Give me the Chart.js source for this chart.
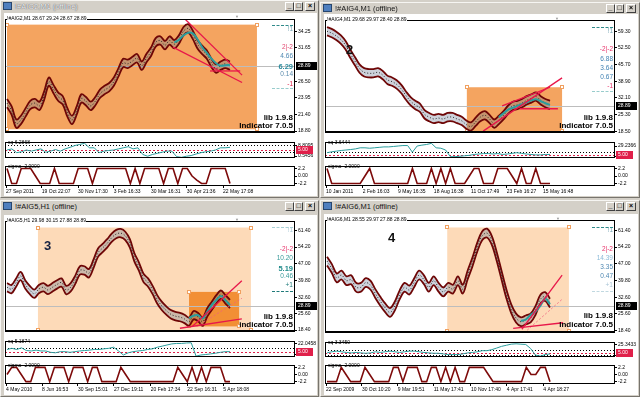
<!DOCTYPE html>
<html><head><meta charset="utf-8">
<script src="https://cdn.jsdelivr.net/npm/chart.js@4.4.1/dist/chart.umd.min.js"></script>
<style>
html,body{margin:0;padding:0}
body{width:640px;height:397px;background:#d4d0c8;position:relative;overflow:hidden;font-family:"Liberation Sans",Arial,sans-serif}
canvas{position:absolute}
.t{position:absolute;white-space:nowrap;line-height:1;font-family:"Liberation Sans",Arial,sans-serif}
</style></head><body>
<script>
// ================= DATA =================
// Panel 1  (!#AIG2,M1)
const P1_PRICE = [23.13,21.98,19.95,20.53,21.69,22.84,23.13,22.70,24.29,26.45,25.30,24.14,23.56,21.69,20.53,21.98,23.85,23.42,22.70,23.42,24.57,25.15,25.59,26.45,27.90,29.34,29.20,29.63,30.06,28.91,30.06,31.07,32.52,32.81,32.08,32.81,32.23,32.95,34.25,34.68,33.67,32.23,31.36,30.64,29.34,28.47,28.91,29.20,28.91];
const P1_MA_START = 36;
const P1_MA = [32.5,32.9,33.6,34.0,33.9,33.0,31.8,30.9,30.0,29.3,28.9,29.0,29.0];
const P1_SQ = [5.20,6.07,3.13,3.80,5.20,4.32,5.20,6.07,3.49,4.32,5.56,4.32,6.07,7.26,8.65,9.48,10.36,6.90,6.90,3.13,4.32,4.84,5.20,6.07,6.90,7.78,6.07,6.90,1.74,0.40,1.74,2.62,3.49,4.32,4.32,0.04,-0.48,0.40,0.92,2.10,3.13,3.80,4.32,5.20,6.90,6.90,7.26];
const P1_SIGMA = [2.2,-2.2,-2.2,2.2,2.2,2.2,0,-2.2,-2.2,-2.2,2.2,-2.2,-2.2,-2.2,-2.2,2.2,2.2,2.2,-2.2,2.2,2.2,2.2,2.2,2.2,2.2,2.2,-2.2,2.2,-2.2,2.2,2.2,2.2,2.2,-2.2,2.2,2.2,-2.2,2.2,2.2,0,-1.2,-2.2,-2.2,2.2,2.2,2.2,2.2,-2.2];
const P1_YTICKS = [34.25,31.65,26.50,23.95,21.40,18.80];
const P1_SQTICKS = [8.8095,0.5456];
const P1_SQLABELS = ["8.8095","0.5456"];
const P1_SQLEVELS = [9.4,3.6];
const P1_XTICKS = [-0.2,7.5,15.3,23.0,31.0,38.7,46.5];
const P1_XLABELS = ["27 Sep 2011","19 Oct 22:07","30 Nov 17:30","3 Feb 16:33","30 Mar 16:31","30 Apr 21:36","22 May 17:08"];
const P1_RECT = [0,53.8,35.26,19.09];
const P1_TREND = [[38.3,36.13,50.6,27.46],[35.7,31.79,50.6,26.31],[43.7,28.1,50.2,28.1]];

// Panel 2  (!#AIG4,M1)
const P2_PRICE = [59.30,58.54,57.39,55.87,53.58,50.15,47.10,44.05,42.52,42.14,42.14,42.52,41.38,39.47,38.71,37.57,35.66,33.01,30.70,29.18,28.03,25.36,24.22,23.46,23.84,23.46,24.22,24.22,23.46,22.70,21.17,20.41,22.31,24.22,24.98,23.46,21.55,23.08,24.98,27.27,28.80,29.18,29.94,31.08,31.85,32.61,31.08,29.94,29.18];
const P2_MA_START = 37;
const P2_MA = [24.2,25.8,27.3,28.0,28.8,29.5,30.3,31.1,31.5,30.7,29.9,29.2];
const P2_SQ = [10.2,12.7,14.6,16.5,17.8,19.2,21.0,24.1,24.1,22.9,24.1,25.4,26.7,26.7,27.9,29.2,30.5,30.5,11.6,29.2,31.7,33.6,36.8,24.1,22.9,17.8,-1.2,-1.2,0.1,1.3,2.6,5.1,6.4,7.7,7.7,6.4,7.7,5.1,6.4,8.3,10.2,8.3,6.4,5.1,3.9,3.9,5.1,5.1];
const P2_SIGMA = [2.2,-2.2,-2.2,-2.2,-2.2,-2.2,-2.2,-2.2,0,2.2,-2.2,-2.2,-2.2,-2.2,-2.2,-2.2,-2.2,-2.2,2.2,-2.2,-2.2,-2.2,2.2,-2.2,2.2,-2.2,2.2,-2.2,-2.2,-2.2,0,2.2,2.2,-2.2,-2.2,-2.2,2.2,2.2,2.2,0,-2.2,2.2,-2.2,-2.2,2.2,-2.2,-2.2,-2.2];
const P2_YTICKS = [59.30,52.50,45.70,38.90,32.10,25.30,18.50];
const P2_SQTICKS = [29.2366,0.137];
const P2_SQLABELS = ["29.2366","0.137"];
const P2_SQLEVELS = [12.7];
const P2_XTICKS = [-0.2,7.7,15.3,23.0,31.0,38.7,46.5];
const P2_XLABELS = ["10 Jan 2011","2 Feb 16:03","9 May 16:35","18 Aug 16:38","11 Oct 17:49","23 Feb 16:27","15 May 16:48"];
const P2_RECT = [30.1,50.6,36.42,18.50];
const P2_TREND = [[33.6,18.50,50.6,40.24],[37.7,28.80,48.0,36.42],[41.5,27.65,49.7,27.65]];

// Panel 3  (!#AIG5,H1)
const P3_PRICE = [36.88,36.08,38.89,41.71,38.09,35.68,34.07,36.08,36.88,35.68,36.88,38.09,38.89,35.68,36.88,40.10,44.12,44.12,42.91,46.93,51.75,53.76,55.77,58.18,59.79,60.19,58.99,55.77,49.74,45.73,40.90,38.89,35.68,31.66,28.85,26.84,25.23,24.43,24.02,23.22,22.01,24.83,24.02,22.01,26.03,28.85,31.66,33.67,31.66,29.65];
const P3_MA_START = 40;
const P3_MA = [23.6,24.6,24.8,23.4,26.4,29.3,31.4,33.1,31.2,29.2];
const P3_SQ = [10.1,12.4,10.1,13.3,8.0,7.1,8.8,7.1,7.1,4.4,3.5,5.7,5.7,4.4,5.7,7.1,8.0,8.8,10.1,10.1,11.4,12.4,14.6,7.1,-0.9,3.5,5.7,7.1,8.0,10.1,11.4,14.6,16.7,19.0,21.2,22.1,22.1,23.0,23.4,-3.2,-0.9,0.0,1.3,2.6,4.4,5.7,5.7];
const P3_SIGMA = [0,2.2,2.2,0,-2.2,-2.2,2.2,2.2,2.2,-2.2,2.2,2.2,2.2,-2.2,2.2,2.2,2.2,-2.2,2.2,2.2,-2.2,-2.2,-2.2,-2.2,2.2,0,-2.2,-2.2,-2.2,-2.2,-2.2,-2.2,-2.2,-2.2,-2.2,-2.2,2.2,0,-2.2,2.2,-2.2,2.2,-2.2,2.2,2.2,2.2,-2.2,-2.2];
const P3_YTICKS = [61.40,54.20,47.00,39.80,32.60,25.60,18.40];
const P3_SQTICKS = [22.0458,0.0166];
const P3_SQLABELS = ["22.0458","0.0166"];
const P3_SQLEVELS = [13.3];
const P3_XTICKS = [-0.2,7.7,15.6,23.5,31.6,39.6,47.5];
const P3_XLABELS = ["4 May 2010","8 Jun 16:53","30 Sep 15:01","27 Dec 19:11","20 Feb 17:34","22 Sep 16:31","5 Apr 18:08"];
const P3_RECT_BIG = [6.8,53.6,62.61,18.40];
const P3_RECT_SMALL = [40.0,51.0,34.87,20.00];
const P3_TREND = [[40.7,20.0,51.6,39.7],[38.0,19.2,51.6,23.2]];
const P3_TREND_THIN = [[41.7,20.0,51.6,32.1]];

// Panel 4  (!#AIG6,M1)
const P4_PRICE = [48.14,44.92,40.90,42.11,39.70,40.10,36.88,36.88,38.89,37.69,34.07,30.86,28.04,26.03,28.85,33.67,36.88,35.68,38.89,42.11,40.10,36.88,39.70,36.88,34.87,36.88,36.08,39.70,36.08,42.11,47.74,54.17,58.99,60.19,56.98,50.15,42.11,34.07,27.64,23.62,22.01,22.82,23.62,26.84,31.66,32.87,30.05];
const P4_MA_START = 40;
const P4_MA = [22.4,23.0,25.0,26.4,28.9,32.0,29.5];
const P4_SQ = [5.1,7.7,9.2,7.7,6.1,5.1,6.1,5.1,4.2,5.1,7.7,6.1,7.7,9.2,7.7,6.1,7.7,9.2,9.2,7.7,6.1,5.1,4.2,4.2,2.7,1.2,1.2,1.2,2.7,5.1,6.1,7.7,10.2,10.2,12.6,16.3,20.2,22.8,25.3,26.1,25.3,24.6,15.2,0.1,-2.5,1.2,2.7];
const P4_SIGMA = [-2.2,-2.2,-2.2,2.2,0,-2.2,-2.2,-2.2,2.2,0,-2.2,-2.2,-2.2,-2.2,2.2,2.2,-2.2,2.2,2.2,2.2,-2.2,-2.2,2.2,2.2,-2.2,2.2,-2.2,2.2,-2.2,-2.2,2.2,2.2,2.2,2.2,0,-2.2,-2.2,-2.2,-2.2,-2.2,-2.2,-2.2,2.2,0,0,2.2,2.2,-2.2];
const P4_YTICKS = [61.40,54.20,47.00,39.80,32.60,25.60,18.40];
const P4_SQTICKS = [25.3433,0.1063];
const P4_SQLABELS = ["25.3433","0.1063"];
const P4_SQLEVELS = [12.6,1.2];
const P4_XTICKS = [-0.2,7.2,14.6,22.0,29.7,37.1,44.6];
const P4_XLABELS = ["22 Sep 2009","30 Oct 10:20","9 Mar 19:51","11 May 17:41","10 Nov 17:40","4 Apr 17:41","4 Apr 18:27"];
const P4_RECT = [24.8,49.9,62.61,18.0];
const P4_TREND = [[40.2,18.8,48.5,42.1],[38.4,19.2,48.7,21.6]];
const P4_TREND_THIN = [[41.3,18.4,48.5,31.7]];

const SIGMA_TICKS = [2.2,0,-2.2];
const SIGMA_LABELS = ["2.2","0.00","-2.2"];
const BID = 28.89;
const SQ_RED_LEVEL = 5.0;

// ================= LAYOUT / STYLE =================
const FONT = "'Liberation Sans', Arial, sans-serif";
const SANDY = '#f4a460', PEACH = '#fddab8', DEEP = '#f28f35';

const PANELS = [
 {win:[0,0,319,198], top:15, mainBot:137, sqBot:162, sigBot:186, title:'!#AIG2,M1 (offline)', light:true,
  head:'!#AIG2,M1  28.67 29.24 28.67 28.89', sqName:'sq 6.2868',
  price:P1_PRICE, band:0.65, ma:P1_MA, maStart:P1_MA_START, yr:[18.51,36.13], yt:P1_YTICKS,
  sq:P1_SQ, sqr:[-0.99,11.39], sqt:P1_SQTICKS, sql:P1_SQLABELS, sqlev:P1_SQLEVELS,
  sig:P1_SIGMA, xt:P1_XTICKS, xl:P1_XLABELS,
  rects:[{v:P1_RECT,c:SANDY}], trend:P1_TREND, thin:[],
  rt:[['!1',30,'#7aa7b5'],['2|-2',48,'#e24a72'],['4.66',57,'#4f88b2'],['6.29',67,'#2d8c9e',1],['0.14',75,'#5b8cae'],['-1',85,'#e0204a']],
  dash:[[25,'#2f8a8a'],[88,'#98cccc']], rx:293, lib:[118,126,'Indicator 7.0.5'], num:null, tri:[235,15]},
 {win:[320,2,320,196], top:16, mainBot:137, sqBot:162, sigBot:186, title:'!#AIG4,M1 (offline)', light:false,
  head:'!#AIG4,M1  29.68 29.97 28.40 28.89', sqName:'sq 3.6444',
  price:P2_PRICE, band:1.7, ma:P2_MA, maStart:P2_MA_START, yr:[17.74,63.88], yt:P2_YTICKS,
  sq:P2_SQ, sqr:[-4.96,40.64], sqt:P2_SQTICKS, sql:P2_SQLABELS, sqlev:P2_SQLEVELS,
  sig:P2_SIGMA, xt:P2_XTICKS, xl:P2_XLABELS,
  rects:[{v:P2_RECT,c:SANDY}], trend:P2_TREND, thin:[],
  rt:[['!1',32,'#7aa7b5'],['-2|-2',50,'#e8326a'],['6.88',60,'#3f80b2'],['3.64',69,'#3f80b2'],['0.67',78,'#3f80b2'],['-1',87,'#e8326a']],
  dash:[[27,'#2f8a8a'],[91,'#98cccc']], rx:613, lib:[118,126,'Indicator 7.0.5'], num:['2',350,50,'#111'], tri:[555,17]},
 {win:[0,200,319,197], top:217, mainBot:336, sqBot:361, sigBot:384, title:'!#AIG5,H1 (offline)', light:false,
  head:'!#AIG5,H1  29.98 30.15 27.88 28.89', sqName:'sq 5.1874',
  price:P3_PRICE, band:1.8, ma:P3_MA, maStart:P3_MA_START, yr:[17.59,65.42], yt:P3_YTICKS,
  sq:P3_SQ, sqr:[-4.89,26.96], sqt:P3_SQTICKS, sql:P3_SQLABELS, sqlev:P3_SQLEVELS,
  sig:P3_SIGMA, xt:P3_XTICKS, xl:P3_XLABELS,
  rects:[{v:P3_RECT_BIG,c:PEACH},{v:P3_RECT_SMALL,c:DEEP}], trend:P3_TREND, thin:P3_TREND_THIN,
  rt:[['!1',231,'#a9c9d6'],['-2|-2',250,'#e8326a'],['10.20',259,'#3a9a9a'],['5.19',269,'#1f8a8a',1],['0.46',277,'#3a9a9a'],['+1',286,'#1f7a7a']],
  dash:[[227,'#a9d0d6'],[291,'#1f7a7a']], rx:293, lib:[317,325,'indicator 7.0.5'], num:['3',48,246,'#142040'], tri:[235,218]},
 {win:[320,200,320,197], top:216, mainBot:337, sqBot:361, sigBot:384, title:'!#AIG6,M1 (offline)', light:false,
  head:'!#AIG6,M1  28.55 29.97 27.88 28.89', sqName:'sq 3.3450',
  price:P4_PRICE, band:1.9, ma:P4_MA, maStart:P4_MA_START, yr:[17.19,65.82], yt:P4_YTICKS,
  sq:P4_SQ, sqr:[-4.42,30.33], sqt:P4_SQTICKS, sql:P4_SQLABELS, sqlev:P4_SQLEVELS,
  sig:P4_SIGMA, xt:P4_XTICKS, xl:P4_XLABELS,
  rects:[{v:P4_RECT,c:PEACH}], trend:P4_TREND, thin:P4_TREND_THIN,
  rt:[['!1',231,'#7aa7b5'],['2|-2',250,'#e8326a'],['14.39',259,'#8bbad8'],['3.35',268,'#4f88b2'],['0.47',277,'#4f88b2'],['+1',286,'#a9c4d6']],
  dash:[[227,'#2f8a8a'],[291,'#c0d8e0']], rx:613, lib:[316,325,'Indicator 7.0.5'], num:['4',392,238,'#111'], tri:[556,217]}
];

// ================= HELPERS =================
function el(css, text, cls){
  const d = document.createElement('div');
  if (cls) d.className = cls;
  d.style.cssText = css;
  if (text != null) d.textContent = text;
  document.body.appendChild(d);
  return d;
}
function canvasAt(x,y,w,h){
  const c = document.createElement('canvas');
  c.width = w; c.height = h;
  c.style.cssText = `left:${x}px;top:${y}px;width:${w}px;height:${h}px`;
  document.body.appendChild(c);
  return c;
}
function txt(s, x, cy, o){
  o = o || {};
  const fs = o.fs || 6;
  let css = `top:${(cy - fs*0.55).toFixed(1)}px;font-size:${fs}px;color:${o.color||'#000'};`;
  css += o.right ? `right:${640 - x}px;` : `left:${x}px;`;
  if (o.bold) css += 'font-weight:bold;';
  if (o.bg) css += `background:${o.bg};`;
  if (o.shadow) css += `text-shadow:${o.shadow};`;
  return el(css, s, 't');
}
function yAxis(min, max, ticks, labels){
  return {
    type:'linear', position:'right', min:min, max:max,
    afterFit: s => { s.width = 23; },
    afterBuildTicks: s => { s.ticks = ticks.map(v => ({value:v})); },
    ticks:{autoSkip:false, padding:1, color:'#000', font:{size:5, family:FONT}, callback:(v,i) => labels[i]},
    grid:{drawOnChartArea:false, drawTicks:true, tickLength:2, color:'#000'},
    border:{display:false}
  };
}
function baseOptions(scales){
  return { responsive:false, animation:false, devicePixelRatio:1, events:[],
    layout:{padding:0}, plugins:{legend:{display:false}, tooltip:{enabled:false}},
    elements:{point:{radius:0}}, scales:scales };
}
function frame(ctx, a, thickBottom){
  ctx.save();
  ctx.strokeStyle = '#000'; ctx.lineWidth = 1;
  ctx.strokeRect(a.left+0.5, a.top+0.5, a.width-1, a.height-1);
  if (thickBottom){ ctx.fillStyle='#000'; ctx.fillRect(a.left, a.bottom-2, a.width, 2); }
  ctx.restore();
}

// ================= BUILD =================
PANELS.forEach((P, pi) => {
  const [wx, wy, ww, wh] = P.win;
  // window chrome
  el(`position:absolute;left:${wx}px;top:${wy}px;width:${ww}px;height:${wh}px;box-sizing:border-box;background:#d4d0c8;border:1px solid;border-color:#f6f5f2 #77746d #77746d #f6f5f2`);
  el(`position:absolute;left:${wx+3}px;top:${wy+2}px;width:9px;height:8px;box-sizing:border-box;background:#4f7fbf;border:1px solid #27466e`);
  el(`position:absolute;left:${wx+15}px;top:${wy+1}px;height:12px;line-height:12px;font-size:7.5px;font-family:${FONT};white-space:nowrap;color:${P.light?'#f2f2f6':'#151515'};${P.light?'text-shadow:0 0 1px #555,0 0 1px #777;':''}`, P.title);
  [['_',ww-34,9],['\u25a1',ww-25,9],['\u00d7',ww-14,10]].forEach(b => {
    el(`position:absolute;left:${wx+b[1]}px;top:${wy+2}px;width:${b[2]}px;height:9px;box-sizing:border-box;background:#d4d0c8;border:1px solid;border-color:#fff #404040 #404040 #fff;font-size:7px;line-height:6px;text-align:center;font-weight:bold;font-family:${FONT};color:#000`, b[0]);
  });
  el(`position:absolute;left:${wx+4}px;top:${P.top-2}px;width:${ww-6}px;height:${wy+wh-P.top}px;background:#fff`);

  const N = P.price.length, unit = 223/(N-1);
  const xmin = -2/unit, xmax = xmin + 290/unit;
  const xHidden = {type:'linear', min:xmin, max:xmax, display:false};
  const spread = arr => arr.map((v,i) => ({x: i*(N-1)/(arr.length-1), y: v}));

  // ---------- main price chart ----------
  const datasets = [];
  const seg = (t, color, w, dash) => ({data:[{x:t[0],y:t[1]},{x:t[2],y:t[3]}], borderColor:color, borderWidth:w, borderDash:dash||[], pointRadius:0, tension:0, fill:false});
  P.trend.forEach(t => datasets.push(seg(t, '#e8174a', 1.3)));
  P.thin.forEach(t => datasets.push(seg(t, '#f0607e', 0.8, [2,2])));
  datasets.push({data:P.ma.map((v,i)=>({x:P.maStart+i, y:v})), borderColor:'#2a9d9d', borderWidth:2, pointRadius:0, tension:0.35, fill:false});
  datasets.push({data:P.price.map((v,i)=>({x:i, y:v})), borderColor:'#2a2a2a', borderWidth:1, borderDash:[1,2], pointRadius:0, tension:0.35, fill:false});
  datasets.push({data:P.price.map((v,i)=>({x:i, y:v + P.band})), borderColor:'#6e0606', borderWidth:1.8, pointRadius:0, tension:0.35, fill:false});
  datasets.push({data:P.price.map((v,i)=>({x:i, y:v - P.band})), borderColor:'#6e0606', borderWidth:1.8, pointRadius:0, tension:0.35, fill:'-1', backgroundColor:'rgba(100,112,140,0.32)'});

  const mainPlugin = {
    id:'main'+pi,
    beforeDatasetsDraw(c){
      const {ctx, chartArea:a, scales:{x, y}} = c;
      ctx.save();
      P.rects.forEach(r => {
        const X1 = x.getPixelForValue(r.v[0]), X2 = x.getPixelForValue(r.v[1]);
        const Y1 = y.getPixelForValue(r.v[2]), Y2 = y.getPixelForValue(r.v[3]);
        ctx.fillStyle = r.c; ctx.fillRect(X1, Y1, X2-X1, Y2-Y1);
        ctx.strokeStyle = '#f0a060'; ctx.lineWidth = 1;
        [[X1,Y1],[X2,Y1],[X1,Y2],[X2,Y2]].forEach(h => { ctx.fillStyle='#fff'; ctx.fillRect(Math.round(h[0])-1, Math.round(h[1])-1, 3, 3); ctx.strokeRect(Math.round(h[0])-1.5, Math.round(h[1])-1.5, 3, 3); });
      });
      const by = Math.round(y.getPixelForValue(BID)) + 0.5;
      ctx.strokeStyle = '#bdbdbd'; ctx.lineWidth = 1;
      ctx.beginPath(); ctx.moveTo(a.left, by); ctx.lineTo(a.right, by); ctx.stroke();
      ctx.restore();
    },
    afterDraw(c){
      const {ctx, chartArea:a, scales:{y}} = c;
      frame(ctx, a, true);
      const py = Math.round(y.getPixelForValue(BID));
      ctx.save();
      ctx.fillStyle = '#000'; ctx.fillRect(a.right+1, py-4, 21, 8);
      ctx.fillStyle = '#fff'; ctx.font = '5px ' + FONT; ctx.textBaseline = 'middle';
      ctx.fillText(BID.toFixed(2), a.right+3, py);
      ctx.restore();
    }
  };
  new Chart(canvasAt(wx+5, P.top, 313, P.mainBot - P.top), {
    type:'line', data:{datasets:datasets},
    options: baseOptions({x:xHidden, y:yAxis(P.yr[0], P.yr[1], P.yt, P.yt.map(v => v.toFixed(2)))}),
    plugins:[mainPlugin]
  });

  // ---------- sq sub-window ----------
  const sqTop = P.mainBot + 1;
  const sqPlugin = {
    id:'sq'+pi,
    beforeDatasetsDraw(c){
      const {ctx, chartArea:a, scales:{y}} = c;
      ctx.save(); ctx.lineWidth = 1;
      P.sqlev.forEach(l => {
        const ly = Math.round(y.getPixelForValue(l)) + 0.5;
        ctx.strokeStyle = '#000'; ctx.setLineDash([1,2]);
        ctx.beginPath(); ctx.moveTo(a.left, ly); ctx.lineTo(a.right, ly); ctx.stroke();
      });
      const ry = Math.round(y.getPixelForValue(SQ_RED_LEVEL)) + 0.5;
      ctx.strokeStyle = '#e0204a'; ctx.setLineDash([2,2]);
      ctx.beginPath(); ctx.moveTo(a.left, ry); ctx.lineTo(a.right, ry); ctx.stroke();
      ctx.restore();
    },
    afterDraw(c){
      const {ctx, chartArea:a, scales:{y}} = c;
      frame(ctx, a, false);
      const py = Math.round(y.getPixelForValue(SQ_RED_LEVEL));
      ctx.save();
      ctx.fillStyle = '#e0204a'; ctx.fillRect(a.right+1, py-4, 17, 8);
      ctx.fillStyle = '#fff'; ctx.font = '5px ' + FONT; ctx.textBaseline = 'middle';
      ctx.fillText(SQ_RED_LEVEL.toFixed(2), a.right+3, py);
      ctx.restore();
    }
  };
  new Chart(canvasAt(wx+5, sqTop, 313, P.sqBot - sqTop), {
    type:'line',
    data:{datasets:[{data:spread(P.sq), borderColor:'#2a9d9d', borderWidth:1, pointRadius:0, tension:0, fill:false}]},
    options: baseOptions({x:xHidden, y:yAxis(P.sqr[0], P.sqr[1], P.sqt, P.sql)}),
    plugins:[sqPlugin]
  });

  // ---------- sigma sub-window ----------
  const sigPlugin = { id:'sig'+pi, afterDraw(c){ frame(c.ctx, c.chartArea, false); } };
  new Chart(canvasAt(wx+5, P.sqBot, 313, P.sigBot - P.sqBot + 11), {
    type:'line',
    data:{datasets:[{data:spread(P.sig), borderColor:'#7d0a0a', borderWidth:1.6, pointRadius:0, tension:0, fill:false}]},
    options: baseOptions({
      x:{type:'linear', min:xmin, max:xmax, position:'bottom',
         afterFit: s => { s.height = 11; },
         afterBuildTicks: s => { s.ticks = P.xt.map(v => ({value:v})); },
         ticks:{autoSkip:false, maxRotation:0, minRotation:0, align:'start', padding:1, color:'#000', font:{size:5, family:FONT}, callback:(v,i) => P.xl[i]},
         grid:{drawOnChartArea:false, drawTicks:true, tickLength:2, color:'#000'},
         border:{display:false}},
      y: yAxis(-2.93, 2.93, SIGMA_TICKS, SIGMA_LABELS)
    }),
    plugins:[sigPlugin]
  });

  // ---------- texts ----------
  txt(P.head, wx+7, P.top+4, {fs:5, bg:'#fff'});
  txt(P.sqName, wx+8, sqTop+5, {fs:5});
  txt('sigma -2.0000', wx+8, P.sqBot+5, {fs:5});
  P.rt.forEach(r => txt(r[0], P.rx, r[1], {fs: r[3] ? 7.5 : 6.5, color:r[2], right:true, bold:!!r[3]}));
  P.dash.forEach(d => el(`position:absolute;left:${P.rx-21}px;top:${d[0]}px;width:21px;height:0;border-top:1px dashed ${d[1]}`));
  txt('lib 1.9.8', P.rx, P.lib[0], {fs:8, bold:true, right:true});
  txt(P.lib[2], P.rx, P.lib[1], {fs:8, bold:true, right:true});
  if (P.num) txt(P.num[0], P.num[1]-4, P.num[2], {fs:13, bold:true, color:P.num[3]});
  txt('\u25bc', P.tri[0], P.tri[1]+2, {fs:4, color:'#999'});
});
</script>
</body></html>
